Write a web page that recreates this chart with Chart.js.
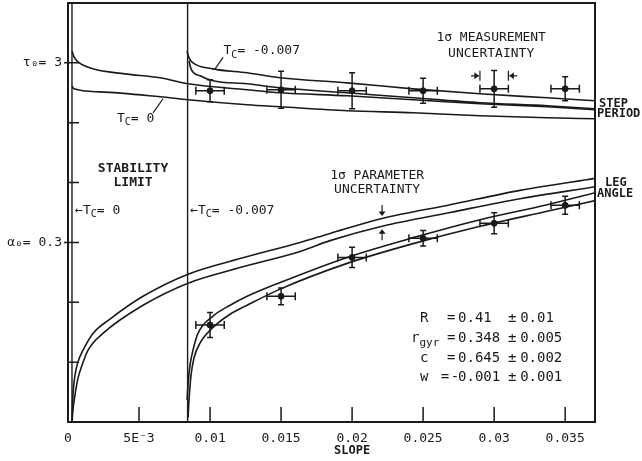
<!DOCTYPE html>
<html lang="en">
<head>
<meta charset="UTF-8">
<title>Step period and leg angle vs slope</title>
<script src="https://cdn.jsdelivr.net/npm/chart.js@4.4.1/dist/chart.umd.min.js"></script>
<style>
  html, body { margin: 0; padding: 0; background: #fff; }
</style>
</head>
<body>
<canvas id="slopeChart" width="642" height="461"></canvas>
<script>
  // axis ticks
  const xTicks = [0, 0.005, 0.01, 0.015, 0.02, 0.025, 0.03, 0.035];
  const xTickLabels = ['0', '5E\u207B3', '0.01', '0.015', '0.02', '0.025', '0.03', '0.035'];
  const yTicks = [0.5, 1, 1.5, 2, 2.5, 3];
  const yTickLabels = ['', '', '\u03B1\u2080= 0.3', '', '', '\u03C4\u2080= 3'];

  // stability limits (slope) for T_C = 0 and T_C = -0.007
  const stabilityLimits = [0.00028, 0.00842];

  // step period, T_C = 0 (two curves)
  const periodTc0aSlope = [0.00028, 0.00042, 0.0007, 0.00176, 0.00401, 0.00648, 0.00845, 0.01261, 0.01493, 0.01965, 0.0243, 0.02901, 0.03373, 0.03711];
  const periodTc0a = [3.10, 3.05, 3.008, 2.95, 2.908, 2.875, 2.825, 2.775, 2.75, 2.725, 2.692, 2.658, 2.633, 2.608];
  const periodTc0bSlope = [0.00028, 0.00042, 0.00225, 0.00648, 0.00845, 0.01261, 0.01493, 0.01965, 0.0243, 0.02901, 0.03373, 0.03711];
  const periodTc0b = [2.808, 2.783, 2.758, 2.717, 2.692, 2.65, 2.633, 2.60, 2.583, 2.558, 2.542, 2.533];

  // step period, T_C = -0.007
  const periodTc7aSlope = [0.00838, 0.00852, 0.0088, 0.01021, 0.01261, 0.01493, 0.01965, 0.0243, 0.02901, 0.03373, 0.03711];
  const periodTc7a = [3.10, 3.042, 3.0, 2.95, 2.917, 2.875, 2.833, 2.783, 2.742, 2.708, 2.683];
  const periodTc7bSlope = [0.00852, 0.00866, 0.0093, 0.01021, 0.01261, 0.01493, 0.01965, 0.0243, 0.02901, 0.03373, 0.03711];
  const periodTc7b = [3.017, 2.95, 2.892, 2.85, 2.825, 2.792, 2.75, 2.708, 2.667, 2.642, 2.617];

  // leg angle, T_C = 0
  const angleTc0aSlope = [0.00028, 0.00035, 0.00049, 0.0007, 0.00106, 0.00176, 0.00296, 0.00528, 0.00845, 0.01211, 0.01634, 0.01845, 0.02211, 0.0269, 0.03183, 0.03711];
  const angleTc0a = [0.003, 0.045, 0.078, 0.10, 0.12, 0.148, 0.172, 0.21, 0.247, 0.273, 0.30, 0.315, 0.34, 0.363, 0.387, 0.407];
  const angleTc0bSlope = [0.00028, 0.00035, 0.00049, 0.0007, 0.00099, 0.00141, 0.00246, 0.00528, 0.00845, 0.01211, 0.01634, 0.01845, 0.02211, 0.0269, 0.03183, 0.03711];
  const angleTc0b = [0, 0.02, 0.045, 0.073, 0.095, 0.12, 0.148, 0.195, 0.232, 0.258, 0.285, 0.303, 0.327, 0.35, 0.373, 0.393];

  // leg angle, T_C = -0.007
  const angleTc7aSlope = [0.00838, 0.00845, 0.00859, 0.0088, 0.00915, 0.01021, 0.01141, 0.01261, 0.01493, 0.01965, 0.0243, 0.02901, 0.03373, 0.03711];
  const angleTc7a = [0.037, 0.062, 0.095, 0.12, 0.148, 0.177, 0.195, 0.21, 0.233, 0.275, 0.308, 0.338, 0.363, 0.383];
  const angleTc7bSlope = [0.00845, 0.00852, 0.00866, 0.00887, 0.0093, 0.01021, 0.01141, 0.01261, 0.01493, 0.01965, 0.0243, 0.02901, 0.03373, 0.03711];
  const angleTc7b = [0.007, 0.037, 0.078, 0.107, 0.132, 0.158, 0.18, 0.195, 0.222, 0.265, 0.298, 0.327, 0.352, 0.37];

  // measurements with 1 sigma errors
  const measSlope = [0.01, 0.015, 0.02, 0.025, 0.03, 0.035];
  const measSlopeErr = [0.001, 0.001, 0.001, 0.001, 0.001, 0.001];
  const measPeriod = [2.767, 2.775, 2.767, 2.767, 2.783, 2.783];
  const measPeriodErr = [0.092, 0.154, 0.15, 0.104, 0.154, 0.1];
  const measAngle = [0.162, 0.21, 0.275, 0.307, 0.332, 0.362];
  const measAngleErr = [0.021, 0.014, 0.017, 0.013, 0.0175, 0.015];

  // fitted parameters
  const fitNames = [['R', ''], ['r', 'gyr'], ['c', ''], ['w', '']];
  const fitValues = ['0.41', '0.348', '0.645', '-0.001'];
  const fitErrors = ['0.01', '0.005', '0.002', '0.001'];

  const ink = '#1a1a1a';
  const mono = '"DejaVu Sans Mono", "Liberation Mono", monospace';

  const pts = (xs, ys) => xs.map((v, i) => ({ x: v, y: ys[i] }));

  function curve(xs, ys, axis) {
    return {
      data: pts(xs, ys), yAxisID: axis,
      borderColor: ink, borderWidth: 1.6, pointRadius: 0,
      cubicInterpolationMode: 'monotone', fill: false
    };
  }

  function limitLine(s) {
    return {
      data: [{ x: s, y: 0 }, { x: s, y: 3.5 }], yAxisID: 'y',
      borderColor: ink, borderWidth: 1.4, pointRadius: 0, tension: 0
    };
  }

  function markers(ys, axis) {
    return {
      data: pts(measSlope, ys), yAxisID: axis, showLine: false,
      pointRadius: 3, pointBackgroundColor: ink, pointBorderColor: ink
    };
  }

  // text with subscripts: parts = [[text, isSub], ...]
  function rich(ctx, x, y, parts, size, bold, align) {
    const fontFor = sub => (bold ? 'bold ' : '') + (sub ? Math.round(size * 0.78) : size) + 'px ' + mono;
    const widths = parts.map(p => { ctx.font = fontFor(p[1]); return ctx.measureText(p[0]).width; });
    const total = widths.reduce((a, b) => a + b, 0);
    let cx = align === 'center' ? x - total / 2 : align === 'right' ? x - total : x;
    ctx.textAlign = 'left';
    ctx.textBaseline = 'middle';
    parts.forEach((p, i) => {
      ctx.font = fontFor(p[1]);
      ctx.fillText(p[0], cx, y + (p[1] ? size * 0.32 : 0));
      cx += widths[i];
    });
  }

  function arrowHead(ctx, x, y, dx, dy) {
    // small filled head pointing along (dx, dy)
    const s = 3.5;
    ctx.beginPath();
    ctx.moveTo(x, y);
    ctx.lineTo(x - dx * s * 1.3 - dy * s, y - dy * s * 1.3 - dx * s);
    ctx.lineTo(x - dx * s * 1.3 + dy * s, y - dy * s * 1.3 + dx * s);
    ctx.closePath();
    ctx.fill();
  }

  const annotate = {
    id: 'annotate',
    afterDatasetsDraw(chart) {
      const { ctx, chartArea: a, scales: { x, y, y2 } } = chart;
      ctx.save();
      ctx.strokeStyle = ink;
      ctx.fillStyle = ink;

      // error bars
      const errors = (vals, errs, axis) => {
        ctx.lineWidth = 1.5;
        measSlope.forEach((s, i) => {
          const px = x.getPixelForValue(s), py = axis.getPixelForValue(vals[i]);
          const x0 = x.getPixelForValue(s - measSlopeErr[i]), x1 = x.getPixelForValue(s + measSlopeErr[i]);
          const y0 = axis.getPixelForValue(vals[i] + errs[i]), y1 = axis.getPixelForValue(vals[i] - errs[i]);
          ctx.beginPath();
          ctx.moveTo(x0, py); ctx.lineTo(x1, py);
          ctx.moveTo(x0, py - 4); ctx.lineTo(x0, py + 4);
          ctx.moveTo(x1, py - 4); ctx.lineTo(x1, py + 4);
          ctx.moveTo(px, y0); ctx.lineTo(px, y1);
          ctx.moveTo(px - 3, y0); ctx.lineTo(px + 3, y0);
          ctx.moveTo(px - 3, y1); ctx.lineTo(px + 3, y1);
          ctx.stroke();
        });
      };
      errors(measPeriod, measPeriodErr, y);
      errors(measAngle, measAngleErr, y2);

      // frame and inner ticks
      ctx.lineWidth = 2;
      ctx.strokeRect(a.left, a.top, a.right - a.left, a.bottom - a.top);
      ctx.lineWidth = 1.5;
      ctx.beginPath();
      xTicks.forEach(v => {
        if (v === 0) return;
        const px = x.getPixelForValue(v);
        ctx.moveTo(px, a.bottom); ctx.lineTo(px, a.bottom - 15);
      });
      yTicks.forEach((v, i) => {
        const py = y.getPixelForValue(v);
        ctx.moveTo(a.left - (yTickLabels[i] ? 4 : 0), py); ctx.lineTo(a.left + 11, py);
      });
      ctx.stroke();

      // T_C labels with leader lines
      ctx.lineWidth = 1.2;
      ctx.beginPath();
      ctx.moveTo(x.getPixelForValue(0.01035), y.getPixelForValue(2.95));
      ctx.lineTo(x.getPixelForValue(0.01092), y.getPixelForValue(3.045));
      ctx.moveTo(x.getPixelForValue(0.00599), y.getPixelForValue(2.583));
      ctx.lineTo(x.getPixelForValue(0.00669), y.getPixelForValue(2.70));
      ctx.stroke();
      rich(ctx, x.getPixelForValue(0.01095), y.getPixelForValue(3.10), [['T', false], ['C', true], ['= -0.007', false]], 13, false, 'left');
      rich(ctx, x.getPixelForValue(0.00345), y.getPixelForValue(2.535), [['T', false], ['C', true], ['= 0', false]], 13, false, 'left');

      rich(ctx, x.getPixelForValue(0.00458), y.getPixelForValue(2.117), [['STABILITY', false]], 13, true, 'center');
      rich(ctx, x.getPixelForValue(0.00458), y.getPixelForValue(2.0), [['LIMIT', false]], 13, true, 'center');
      rich(ctx, x.getPixelForValue(0.0005), y.getPixelForValue(1.767), [['\u2190T', false], ['C', true], ['= 0', false]], 13, false, 'left');
      rich(ctx, x.getPixelForValue(0.0086), y.getPixelForValue(1.767), [['\u2190T', false], ['C', true], ['= -0.007', false]], 13, false, 'left');

      // measurement uncertainty note and arrows
      rich(ctx, x.getPixelForValue(0.02979), y.getPixelForValue(3.208), [['1\u03C3 MEASUREMENT', false]], 13, false, 'center');
      rich(ctx, x.getPixelForValue(0.02979), y.getPixelForValue(3.075), [['UNCERTAINTY', false]], 13, false, 'center');
      const ay = y.getPixelForValue(2.892);
      const bl = x.getPixelForValue(measSlope[4] - measSlopeErr[4]);
      const br = x.getPixelForValue(measSlope[4] + measSlopeErr[4]);
      ctx.beginPath();
      ctx.moveTo(bl - 9, ay); ctx.lineTo(bl - 1, ay);
      ctx.moveTo(bl, ay - 5); ctx.lineTo(bl, ay + 5);
      ctx.moveTo(br + 9, ay); ctx.lineTo(br + 1, ay);
      ctx.moveTo(br, ay - 5); ctx.lineTo(br, ay + 5);
      ctx.stroke();
      arrowHead(ctx, bl - 1, ay, 1, 0);
      arrowHead(ctx, br + 1, ay, -1, 0);

      // parameter uncertainty note and arrows
      rich(ctx, x.getPixelForValue(0.02176), y2.getPixelForValue(0.4117), [['1\u03C3 PARAMETER', false]], 13, false, 'center');
      rich(ctx, x.getPixelForValue(0.02176), y2.getPixelForValue(0.3883), [['UNCERTAINTY', false]], 13, false, 'center');
      const pxa = x.getPixelForValue(0.02211);
      const t1 = y2.getPixelForValue(0.344), t2 = y2.getPixelForValue(0.322);
      ctx.beginPath();
      ctx.moveTo(pxa, t1 - 11); ctx.lineTo(pxa, t1 - 2);
      ctx.moveTo(pxa, t2 + 11); ctx.lineTo(pxa, t2 + 2);
      ctx.stroke();
      arrowHead(ctx, pxa, t1, 0, 1);
      arrowHead(ctx, pxa, t2, 0, -1);

      // fitted parameter table
      const rows = [0.867, 0.70, 0.533, 0.375];
      const fs = 14;
      rows.forEach((r, i) => {
        const py = y.getPixelForValue(r);
        const name = fitNames[i];
        const parts = [[name[0], false]];
        if (name[1]) parts.push([name[1], true]);
        rich(ctx, x.getPixelForValue(0.02507) + (name[1] ? 1 : 0), py, parts, fs, false, 'center');
        const v = fitValues[i];
        const vx = x.getPixelForValue(0.02746);
        if (v[0] === '-') {
          rich(ctx, vx - 13, py, [['=', false]], fs, false, 'center');
          rich(ctx, vx + 1, py, [['-', false]], fs, false, 'right');
          rich(ctx, vx, py, [[v.slice(1), false]], fs, false, 'left');
        } else {
          rich(ctx, x.getPixelForValue(0.02697), py, [['=', false]], fs, false, 'center');
          rich(ctx, vx, py, [[v, false]], fs, false, 'left');
        }
        rich(ctx, x.getPixelForValue(0.03127), py, [['\u00B1', false]], fs, false, 'center');
        rich(ctx, x.getPixelForValue(0.03183), py, [[fitErrors[i], false]], fs, false, 'left');
      });

      // series names at the right edge
      rich(ctx, a.right + 4, y.getPixelForValue(2.658), [['STEP', false]], 12, true, 'left');
      rich(ctx, a.right + 2, y.getPixelForValue(2.575), [['PERIOD', false]], 12, true, 'left');
      rich(ctx, a.right + 10, y2.getPixelForValue(0.4), [['LEG', false]], 12, true, 'left');
      rich(ctx, a.right + 2, y2.getPixelForValue(0.3817), [['ANGLE', false]], 12, true, 'left');

      // axis title under the 0.02 tick
      rich(ctx, x.getPixelForValue(0.02), a.bottom + 29, [['SLOPE', false]], 12, true, 'center');

      ctx.restore();
    }
  };

  const datasets = [
    limitLine(stabilityLimits[0]),
    limitLine(stabilityLimits[1]),
    curve(periodTc0aSlope, periodTc0a, 'y'),
    curve(periodTc0bSlope, periodTc0b, 'y'),
    curve(periodTc7aSlope, periodTc7a, 'y'),
    curve(periodTc7bSlope, periodTc7b, 'y'),
    curve(angleTc0aSlope, angleTc0a, 'y2'),
    curve(angleTc0bSlope, angleTc0b, 'y2'),
    curve(angleTc7aSlope, angleTc7a, 'y2'),
    curve(angleTc7bSlope, angleTc7b, 'y2'),
    markers(measPeriod, 'y'),
    markers(measAngle, 'y2')
  ];

  const tickFont = { family: mono, size: 13 };

  new Chart(document.getElementById('slopeChart'), {
    type: 'line',
    data: { datasets },
    options: {
      responsive: false,
      animation: false,
      devicePixelRatio: 1,
      layout: { autoPadding: false, padding: { top: 3, right: 47, left: 0, bottom: 0 } },
      plugins: { legend: { display: false }, tooltip: { enabled: false } },
      scales: {
        x: {
          type: 'linear', min: 0, max: 0.0371,
          afterFit: s => { s.height = 39; s.paddingLeft = 0; s.paddingRight = 0; },
          afterBuildTicks: s => { s.ticks = xTicks.map(v => ({ value: v })); },
          ticks: {
            callback: (v, i) => xTickLabels[i], font: tickFont, color: ink,
            padding: 9, maxRotation: 0, autoSkip: false, includeBounds: false
          },
          grid: { display: false, drawTicks: false },
          border: { display: false }
        },
        y: {
          type: 'linear', min: 0, max: 3.5,
          afterFit: s => { s.width = 68; s.paddingTop = 0; s.paddingBottom = 0; },
          afterBuildTicks: s => { s.ticks = yTicks.map(v => ({ value: v })); },
          ticks: {
            callback: (v, i) => yTickLabels[i], font: tickFont, color: ink,
            padding: 6, autoSkip: false, includeBounds: false
          },
          grid: { display: false, drawTicks: false },
          border: { display: false }
        },
        y2: { type: 'linear', display: false, min: 0, max: 0.7 }
      }
    },
    plugins: [annotate]
  });
</script>
</body>
</html>
